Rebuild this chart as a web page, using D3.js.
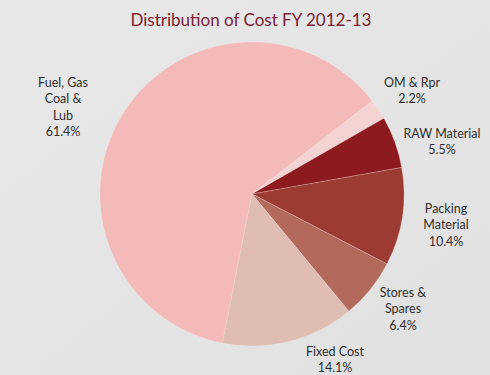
<!DOCTYPE html>
<html>
<head>
<meta charset="utf-8">
<script src="https://cdn.jsdelivr.net/npm/d3@7"></script>
<style>
  html, body { margin: 0; padding: 0; background: #e5e5e5; }
  svg { display: block; }
</style>
</head>
<body>
<script>
// Cost shares, FY 2012-13 (percent of total cost)
const categories = ["Fuel, Gas Coal & Lub", "OM & Rpr", "RAW Material", "Packing Material", "Stores & Spares", "Fixed Cost"];
const shares = [61.4, 2.2, 5.5, 10.4, 6.4, 14.1];
const sliceColors = ["#f4b9b9", "#f6d3d3", "#8c1a1f", "#9c3b31", "#b4695d", "#dfbdb2"];
// label text lines, positions of each block
const labelLines = [
  ["Fuel, Gas", "Coal &", "Lub"],
  ["OM & Rpr"],
  ["RAW Material"],
  ["Packing", "Material"],
  ["Stores &", "Spares"],
  ["Fixed Cost"]
];
const labelAnchors = [[63, 84], [412, 84], [442, 135], [446, 210], [403, 294], [335, 353]];

const W = 490, H = 375;
const cx = 252, cy = 194, R = 152;

const svg = d3.select("body").append("svg").attr("width", W).attr("height", H);

const defs = svg.append("defs");
const bg = defs.append("linearGradient").attr("id", "bg")
  .attr("x1", "0").attr("y1", "0").attr("x2", "1").attr("y2", "1");
bg.append("stop").attr("offset", "0").attr("stop-color", "#e8e8e8");
bg.append("stop").attr("offset", "1").attr("stop-color", "#e1e1e1");
svg.append("rect").attr("width", W).attr("height", H).attr("fill", "url(#bg)");

svg.append("text")
  .attr("x", 251).attr("y", 26)
  .attr("text-anchor", "middle")
  .attr("font-family", "Lato, 'Open Sans', sans-serif")
  .attr("font-size", 17)
  .attr("fill", "#7a2233")
  .text("Distribution of Cost FY 2012-13");

const data = categories.map((c, i) => ({ name: c, value: shares[i], color: sliceColors[i], lines: labelLines[i], anchor: labelAnchors[i] }));

const start = 191.2 * Math.PI / 180;
const pie = d3.pie().value(d => d.value).sort(null)
  .startAngle(start).endAngle(start + 2 * Math.PI);
const arc = d3.arc().innerRadius(0).outerRadius(R);

const g = svg.append("g").attr("transform", `translate(${cx},${cy})`);
g.selectAll("path").data(pie(data)).join("path")
  .attr("d", arc)
  .attr("fill", d => d.data.color)
  .attr("stroke", "#f3e4e4")
  .attr("stroke-opacity", 0.5)
  .attr("stroke-width", 0.5);

const fmt = d3.format(".1f");
const labels = svg.append("g")
  .attr("font-family", "Lato, 'Open Sans', sans-serif")
  .attr("font-size", 12.5)
  .attr("fill", "#2f2f2f")
  .attr("text-anchor", "middle");

data.forEach(d => {
  const t = labels.append("text")
    .attr("x", d.anchor[0]).attr("y", d.anchor[1])
    .attr("dominant-baseline", "middle");
  const all = d.lines.concat([fmt(d.value) + "%"]);
  all.forEach((line, k) => {
    t.append("tspan").attr("x", d.anchor[0]).attr("dy", k === 0 ? 0 : 16.3).text(line);
  });
});
</script>
</body>
</html>
